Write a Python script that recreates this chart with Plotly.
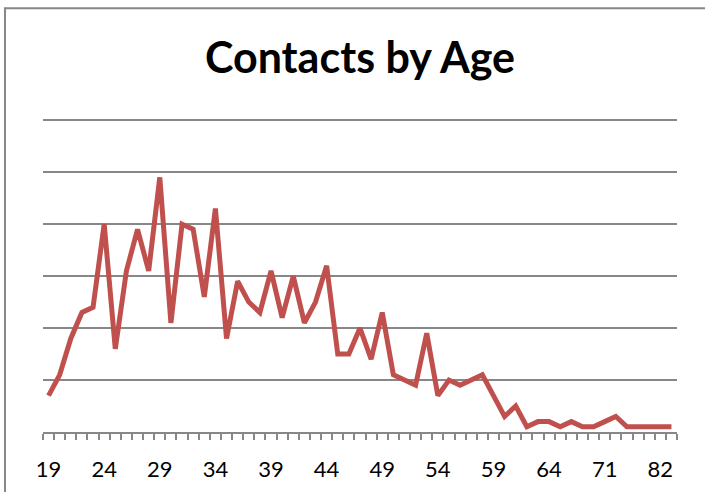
import plotly.graph_objects as go

ages = [19, 20, 21, 22, 23, 24, 25, 26, 27, 28, 29, 30, 31, 32, 33, 34, 35, 36, 37, 38,
        39, 40, 41, 42, 43, 44, 45, 46, 47, 48, 49, 50, 51, 52, 53, 54, 55, 56, 57, 58,
        59, 60, 61, 62, 63, 64, 65, 66, 67, 69, 71, 73, 75, 77, 79, 82, 85]
contacts = [7, 11, 18, 23, 24, 40, 16, 31, 39, 31, 49, 21, 40, 39, 26, 43, 18, 29, 25, 23,
            31, 22, 30, 21, 25, 32, 15, 15, 20, 14, 23, 11, 10, 9, 19, 7, 10, 9, 10, 11,
            7, 3, 5, 1, 2, 2, 1, 2, 1, 1, 2, 3, 1, 1, 1, 1, 1]
label_every = 5
title_text = "Contacts by Age"

idx = list(range(len(ages)))
tickvals = idx[::label_every]
ticktext = [str(ages[i]) for i in tickvals]

grey = "#878787"

W, H = 705, 492
left, right_px = 43, 676.7
top_px, bottom_px = 114.8, 432
plot_w = right_px - left
plot_h = bottom_px - top_px

fig = go.Figure()
fig.add_trace(go.Scatter(
    x=idx, y=contacts, mode="lines",
    line=dict(color="#C0504D", width=5),
    hoverinfo="skip", showlegend=False,
))

fig.update_layout(
    width=W, height=H,
    margin=dict(l=left, r=W - right_px, t=top_px, b=H - bottom_px, pad=0),
    paper_bgcolor="white", plot_bgcolor="white",
    title=dict(text="<b>" + title_text + "</b>", x=0.5, xref="paper", xanchor="center",
               y=1 - 58 / H, yref="container", yanchor="middle",
               font=dict(family="Lato", size=43, color="black")),
    font=dict(family="Lato", color="black"),
    xaxis=dict(
        range=[-0.5, len(ages) - 0.5],
        tickvals=tickvals, ticktext=ticktext,
        ticks="", showgrid=False, zeroline=False,
        showline=True, linecolor=grey, linewidth=1.5,
        tickfont=dict(family="Lato", size=22, color="black"),
        ticklabelstandoff=17, automargin=False,
        minor=dict(ticks="outside", tick0=-0.5, dtick=1, ticklen=6,
                   tickcolor=grey, tickwidth=1.5, showgrid=False),
        fixedrange=True,
    ),
    yaxis=dict(
        range=[0, 61], tick0=0, dtick=10, showticklabels=False, ticks="",
        showgrid=True, gridcolor=grey, gridwidth=1.5, automargin=False,
        zeroline=False, showline=False, fixedrange=True,
    ),
    shapes=[dict(type="rect", xref="paper", yref="paper",
                 x0=(5 - left) / plot_w, x1=1.2, y0=-0.5,
                 y1=1 + (top_px - 8) / plot_h,
                 line=dict(color=grey, width=2), fillcolor="rgba(0,0,0,0)",
                 layer="below")],
)

fig.write_html("out.html", config={"displayModeBar": False},
               post_script="document.body.style.margin='0';")
